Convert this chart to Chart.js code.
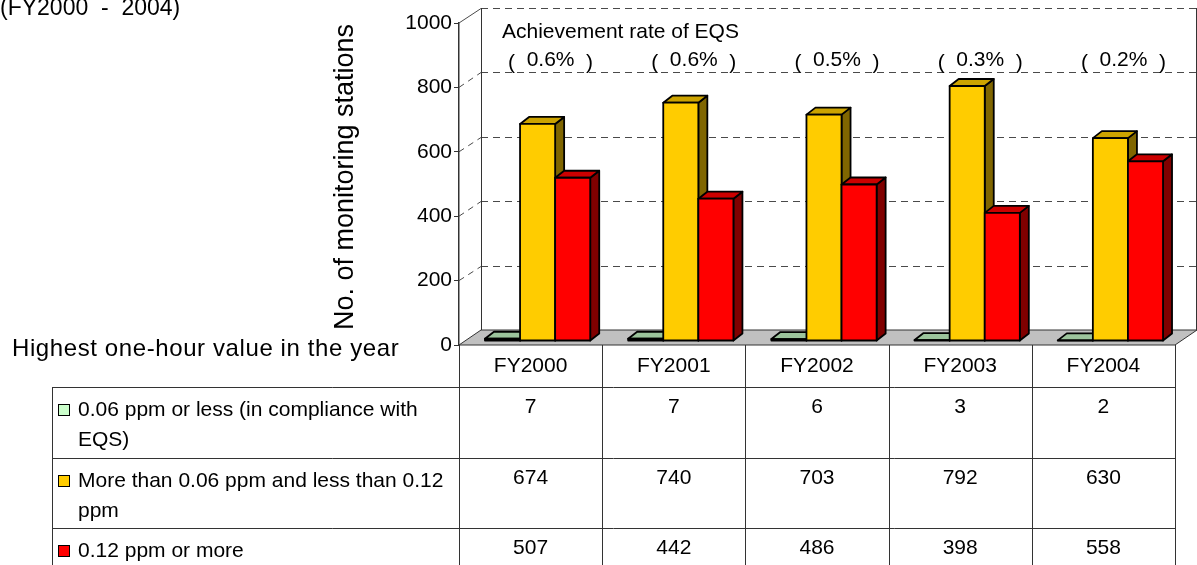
<!DOCTYPE html>
<html>
<head>
<meta charset="utf-8">
<script src="https://cdn.jsdelivr.net/npm/chart.js@4"></script>
<style>
  html, body { margin: 0; padding: 0; background: #fff; }
  #wrap { width: 1197px; height: 565px; }
</style>
</head>
<body>
<div id="wrap"><canvas id="chart" width="1197" height="565"></canvas></div>
<script>
const years = ['FY2000', 'FY2001', 'FY2002', 'FY2003', 'FY2004'];
const lowCounts = [7, 7, 6, 3, 2];
const midCounts = [674, 740, 703, 792, 630];
const highCounts = [507, 442, 486, 398, 558];
const achieveRates = ['0.6%', '0.6%', '0.5%', '0.3%', '0.2%'];
const seriesLines = [
  ['0.06 ppm or less (in compliance with', 'EQS)'],
  ['More than 0.06 ppm and less than 0.12', 'ppm'],
  ['0.12 ppm or more'],
];
const yMax = 1000;
const yStep = 200;

const FONT = '"Liberation Sans", Arial, sans-serif';
const wall = { dx: 22, dy: 15 };     // depth of the back wall
const shift = { dx: 7, dy: -4 };     // bar front face offset from the front plane
const barDepth = { dx: 9, dy: 7 };   // depth of each bar

// front / top / side colours per series
const faces = [
  { front: '#ccffcc', top: '#9cc49c', side: '#6e8f6e' },
  { front: '#ffcc00', top: '#cca300', side: '#806600' },
  { front: '#ff0000', top: '#cc0000', side: '#800000' },
];

function poly(ctx, pts, fill) {
  ctx.beginPath();
  ctx.moveTo(pts[0][0], pts[0][1]);
  for (let i = 1; i < pts.length; i++) ctx.lineTo(pts[i][0], pts[i][1]);
  ctx.closePath();
  ctx.fillStyle = fill;
  ctx.fill();
  ctx.stroke();
}

const boxPlugin = {
  id: 'box3d',
  beforeDatasetsDraw(chart) {
    const { ctx, chartArea: a, scales } = chart;
    const ys = scales.y;
    ctx.save();

    // back wall grid + diagonal ticks
    ctx.lineWidth = 1;
    ctx.strokeStyle = '#4a4a4a';
    for (let v = yStep; v <= yMax; v += yStep) {
      const yf = ys.getPixelForValue(v);
      const yb = Math.round(yf - wall.dy) + 0.5;
      ctx.setLineDash(v === yMax ? [] : [6, 5]);
      ctx.beginPath();
      ctx.moveTo(a.left, yf);
      ctx.lineTo(a.left + wall.dx, yb);
      ctx.stroke();
      ctx.setLineDash([7, 5]);
      ctx.beginPath();
      ctx.moveTo(a.left + wall.dx, yb);
      ctx.lineTo(a.right + wall.dx, yb);
      ctx.stroke();
    }
    ctx.setLineDash([]);
    ctx.strokeStyle = '#333';
    const yTop = ys.getPixelForValue(yMax) - wall.dy;
    const yBack0 = a.bottom - wall.dy;
    ctx.beginPath();
    ctx.moveTo(a.left + wall.dx + 0.5, yTop);
    ctx.lineTo(a.left + wall.dx + 0.5, yBack0);
    ctx.moveTo(a.right + wall.dx - 0.5, yTop);
    ctx.lineTo(a.right + wall.dx - 0.5, yBack0);
    ctx.stroke();

    // floor
    poly(ctx, [
      [a.left, a.bottom], [a.left + wall.dx, yBack0],
      [a.right + wall.dx, yBack0], [a.right, a.bottom],
    ], '#c0c0c0');

    // bars, category by category so neighbours overlap correctly
    ctx.lineWidth = 1.8;
    ctx.strokeStyle = '#000';
    ctx.lineJoin = 'round';
    for (let i = 0; i < years.length; i++) {
      chart.data.datasets.forEach((ds, d) => {
        const el = chart.getDatasetMeta(d).data[i];
        const p = el.getProps(['x', 'y', 'base', 'width'], true);
        const l = p.x - p.width / 2 + shift.dx;
        const r = p.x + p.width / 2 + shift.dx;
        const t = p.y + shift.dy;
        const b = p.base + shift.dy;
        const f = faces[d];
        poly(ctx, [[r, b], [r + barDepth.dx, b - barDepth.dy], [r + barDepth.dx, t - barDepth.dy], [r, t]], f.side);
        poly(ctx, [[l, t], [l + barDepth.dx, t - barDepth.dy], [r + barDepth.dx, t - barDepth.dy], [r, t]], f.top);
        poly(ctx, [[l, t], [r, t], [r, b], [l, b]], f.front);
      });
    }

    // achievement rate labels on the back wall
    ctx.fillStyle = '#000';
    ctx.font = '21px ' + FONT;
    ctx.textBaseline = 'middle';
    ctx.textAlign = 'left';
    ctx.fillText('Achievement rate of EQS', a.left + 43, 32);
    ctx.textAlign = 'center';
    ctx.textBaseline = 'alphabetic';
    const yLine = ys.getPixelForValue(800) - wall.dy;
    achieveRates.forEach((rate, i) => {
      const cx = scales.x.getPixelForValue(i) + wall.dx - 2;
      ctx.fillText(rate, cx, yLine - 6);
      ctx.fillText('(', cx - 39, yLine - 3);
      ctx.fillText(')', cx + 39, yLine - 3);
    });

    ctx.restore();
    return false;
  },
  afterDraw(chart) {
    const { ctx, chartArea: a, scales } = chart;
    ctx.save();
    ctx.fillStyle = '#000';

    // titles
    ctx.textBaseline = 'alphabetic';
    ctx.textAlign = 'left';
    ctx.font = '23px ' + FONT;
    ctx.fillText('(FY2000  -  2004)', 0, 15);
    ctx.font = '24px ' + FONT;
    ctx.letterSpacing = '0.6px';
    ctx.fillText('Highest one-hour value in the year', 12, 356);
    ctx.letterSpacing = '0px';
    ctx.save();
    ctx.font = '27px ' + FONT;
    ctx.translate(353, 177);
    ctx.rotate(-Math.PI / 2);
    ctx.textAlign = 'center';
    ctx.fillText('No. of monitoring stations', 0, 0);
    ctx.restore();

    // data table
    ctx.textBaseline = 'middle';
    const colW = (a.right - a.left) / years.length;
    const tableLeft = 52;
    const rowTops = [387, 458, 528, 600];
    ctx.strokeStyle = '#333';
    ctx.lineWidth = 1;
    ctx.beginPath();
    for (let k = 0; k <= years.length; k++) {
      const xv = Math.round(a.left + k * colW) + 0.5;
      ctx.moveTo(xv, a.bottom);
      ctx.lineTo(xv, 565);
    }
    ctx.moveTo(tableLeft + 0.5, rowTops[0]);
    ctx.lineTo(tableLeft + 0.5, 565);
    for (let r = 0; r < 3; r++) {
      ctx.moveTo(tableLeft, rowTops[r] + 0.5);
      ctx.lineTo(a.right, rowTops[r] + 0.5);
    }
    ctx.stroke();

    ctx.font = '21px ' + FONT;
    chart.data.datasets.forEach((ds, d) => {
      const top = rowTops[d];
      // legend key
      ctx.fillStyle = faces[d].front;
      ctx.fillRect(58.5, top + 17.5, 11, 11);
      ctx.strokeStyle = '#000';
      ctx.strokeRect(58.5, top + 17.5, 11, 11);
      ctx.fillStyle = '#000';
      ctx.textAlign = 'left';
      seriesLines[d].forEach((line, j) => {
        ctx.fillText(line, 78, top + 23 + j * 30);
      });
      ctx.textAlign = 'center';
      ds.data.forEach((v, i) => {
        ctx.fillText(String(v), scales.x.getPixelForValue(i), top + 20);
      });
    });
    ctx.restore();
  },
};

new Chart(document.getElementById('chart'), {
  type: 'bar',
  data: {
    labels: years,
    datasets: [
      { label: seriesLines[0].join(' '), data: lowCounts, backgroundColor: faces[0].front },
      { label: seriesLines[1].join(' '), data: midCounts, backgroundColor: faces[1].front },
      { label: seriesLines[2].join(' '), data: highCounts, backgroundColor: faces[2].front },
    ],
  },
  options: {
    responsive: false,
    animation: false,
    categoryPercentage: 0.735,
    barPercentage: 1.0,
    layout: { padding: { left: 0, right: 22, top: 23, bottom: 0 } },
    plugins: {
      legend: { display: false },
      tooltip: { enabled: false },
    },
    scales: {
      x: {
        grid: { display: false, drawTicks: false },
        border: { display: false },
        ticks: { color: '#000', font: { family: FONT, size: 21 }, padding: 9 },
        afterFit(scale) { scale.height = 220; },
      },
      y: {
        min: 0,
        max: yMax,
        grid: { drawOnChartArea: false, drawTicks: true, tickLength: 5, color: '#333' },
        border: { display: true, color: '#333', width: 1.5 },
        ticks: {
          stepSize: yStep,
          color: '#000',
          font: { family: FONT, size: 21 },
          padding: 2,
          callback: (v) => String(v),
        },
        afterFit(scale) { scale.width = 459; },
      },
    },
  },
  plugins: [boxPlugin],
});
</script>
</body>
</html>
